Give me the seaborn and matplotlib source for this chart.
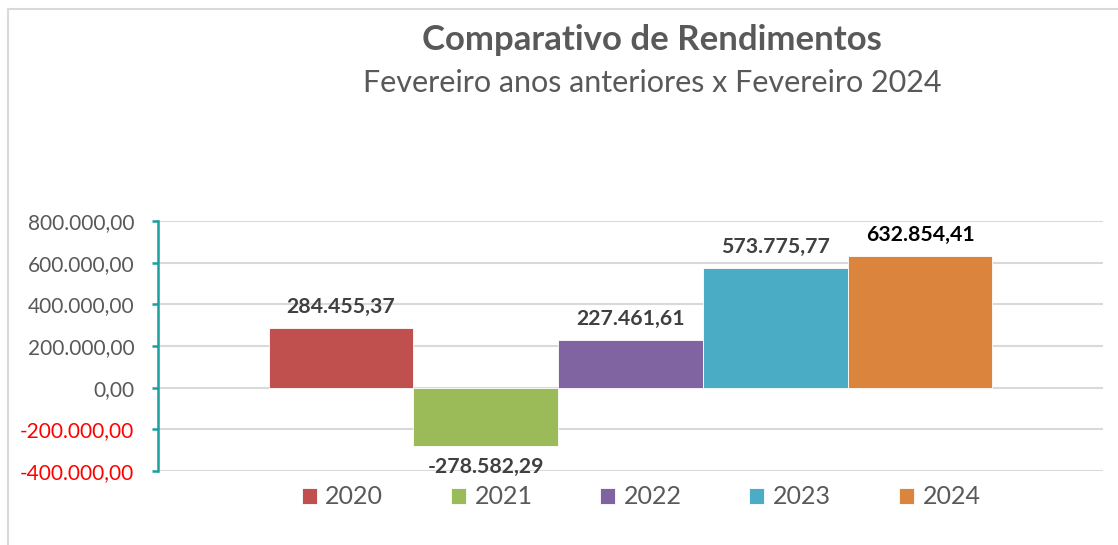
import numpy as np
import pandas as pd
import matplotlib.pyplot as plt
from matplotlib.lines import Line2D
import seaborn as sns

# dados
anos = ["2020", "2021", "2022", "2023", "2024"]
rendimentos = [284455.37, -278582.29, 227461.61, 573775.77, 632854.41]
cores = ["#C0504D", "#9BBB59", "#8064A2", "#4BACC6", "#DB843D"]
cor_rotulos = ["#404040", "#404040", "#404040", "#404040", "#000000"]
y_ticks = [-400000, -200000, 0, 200000, 400000, 600000, 800000]

titulo = "Comparativo de Rendimentos"
subtitulo = "Fevereiro anos anteriores x Fevereiro 2024"


def fmt_br(v):
    # 1,234.56 -> 1.234,56
    s = f"{v:,.2f}"
    return s.replace(",", "X").replace(".", ",").replace("X", ".")


sns.set_style("white")
plt.rcParams["font.family"] = ["Lato", "DejaVu Sans"]

df = pd.DataFrame({"grupo": ["Fev"] * len(anos), "ano": anos, "valor": rendimentos})

fig = plt.figure(figsize=(11.18, 5.45), dpi=100)
ax = fig.add_axes([158 / 1118, 1 - 471 / 545, (1103 - 158) / 1118, (471 - 221) / 545])

sns.barplot(
    data=df, x="grupo", y="valor", hue="ano",
    palette=dict(zip(anos, cores)), hue_order=anos,
    width=0.766, dodge=True, gap=0, saturation=1,
    edgecolor="white", linewidth=0.6, errorbar=None, ax=ax,
)

ax.set_ylim(-400000, 800000)
ax.set_yticks(y_ticks)
ax.set_yticklabels([fmt_br(v) for v in y_ticks], fontsize=15)
for lbl, v in zip(ax.get_yticklabels(), y_ticks):
    lbl.set_color("#FF0000" if v < 0 else "#595959")

ax.set_xticks([])
ax.set_xlabel("")
ax.set_ylabel("")
ax.yaxis.grid(True, color="#D9D9D9", linewidth=1.5)
ax.set_axisbelow(True)

for s in ["top", "right", "bottom"]:
    ax.spines[s].set_visible(False)
ax.spines["left"].set_color("#1A9E9E")
ax.spines["left"].set_linewidth(1.8)
ax.tick_params(axis="y", left=True, direction="out", length=4, width=1.8,
               color="#1A9E9E", pad=13)

# rótulos de dados
for cont, v, c in zip(ax.containers, rendimentos, cor_rotulos):
    ax.bar_label(cont, labels=[fmt_br(v)], padding=8, fontsize=15.3,
                 fontweight="bold", color=c)

sns.move_legend(
    ax, "center", bbox_to_anchor=(641 / 1118, 1 - 497 / 545), bbox_transform=fig.transFigure,
    ncol=5, frameon=False, title=None, fontsize=18,
    handlelength=0.6, handleheight=0.6, handletextpad=0.35, columnspacing=2.7,
)
for t in ax.get_legend().get_texts():
    t.set_color("#595959")

fig.text(652 / 1118, 1 - 40 / 545, titulo, ha="center", va="center",
         fontsize=25, fontweight="bold", color="#595959")
fig.text(652 / 1118, 1 - 83 / 545, subtitulo, ha="center", va="center",
         fontsize=22, color="#595959")

# moldura do gráfico (topo e esquerda)
fig.add_artist(Line2D([8 / 1118, 8 / 1118, 1], [0, 1 - 9 / 545, 1 - 9 / 545],
                      transform=fig.transFigure, color="#D9D9D9", linewidth=1.5))

fig.savefig("out.png", dpi=100)
